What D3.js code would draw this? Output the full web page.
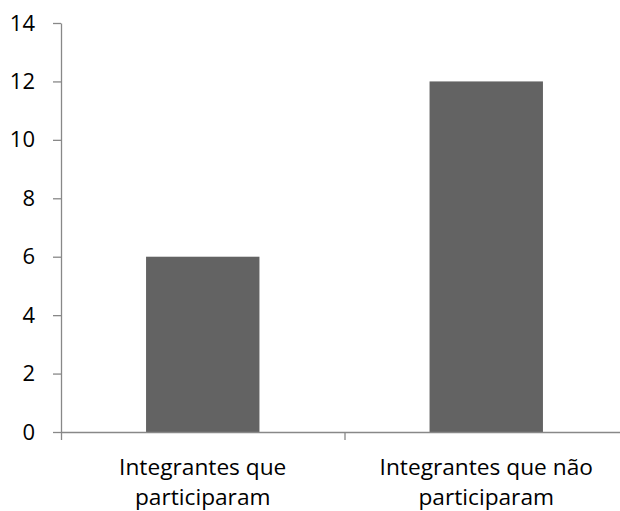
<!DOCTYPE html>
<html>
<head>
<meta charset="utf-8">
<script src="https://cdn.jsdelivr.net/npm/d3@7"></script>
<style>
  body { margin: 0; background: #fff; }
  svg text { font-family: "Open Sans", "Liberation Sans", sans-serif; fill: #000; }
</style>
</head>
<body>
<div id="chart"></div>
<script>
// data
var categories = [["Integrantes que", "participaram"], ["Integrantes que não", "participaram"]];
var values = [6, 12];
var yTicks = [0, 2, 4, 6, 8, 10, 12, 14];

var width = 620, height = 511;
var margin = {left: 61, top: 23, right: -8, bottom: 79};
var plotW = width - margin.left - margin.right;
var plotH = height - margin.top - margin.bottom;

var svg = d3.select("#chart")
  .append("svg")
  .attr("width", width)
  .attr("height", height)
  .append("g")
  .attr("transform", "translate(" + margin.left + "," + margin.top + ")");

var x = d3.scaleBand()
  .domain(d3.range(categories.length))
  .range([0, plotW])
  .paddingInner(0.6)
  .paddingOuter(0.3);

var xAxisScale = d3.scaleLinear().domain([0, categories.length]).range([0, plotW]);

var y = d3.scaleLinear()
  .domain([0, 14])
  .range([plotH, 0]);

// bars
svg.selectAll("rect.bar")
  .data(values)
  .enter()
  .append("rect")
    .attr("class", "bar")
    .attr("x", function(d, i) { return x(i); })
    .attr("y", function(d) { return y(d); })
    .attr("width", x.bandwidth())
    .attr("height", function(d) { return plotH - y(d); })
    .attr("fill", "#636363");

// y axis
var yAxis = svg.append("g")
  .call(d3.axisLeft(y).tickValues(yTicks).tickSize(8).tickPadding(18).tickSizeOuter(0));
yAxis.select(".domain").attr("stroke", "#888").attr("stroke-width", 1.3);
yAxis.selectAll(".tick line").attr("stroke", "#888").attr("stroke-width", 1.3);
yAxis.selectAll(".tick text").style("font-size", "22px").attr("fill", "#000");

// x axis (ticks between categories)
var xAxis = svg.append("g")
  .attr("transform", "translate(0," + plotH + ")")
  .call(d3.axisBottom(xAxisScale).tickValues(d3.range(categories.length + 1)).tickSize(8).tickSizeOuter(0).tickFormat(""));
xAxis.select(".domain").attr("stroke", "#888").attr("stroke-width", 1.3);
xAxis.selectAll(".tick line").attr("stroke", "#888").attr("stroke-width", 1.3);

// category labels
var lab = svg.selectAll("text.cat")
  .data(categories)
  .enter()
  .append("text")
    .attr("class", "cat")
    .attr("text-anchor", "middle")
    .attr("x", function(d, i) { return x(i) + x.bandwidth() / 2; })
    .attr("y", plotH + 43)
    .style("font-size", "22.7px");
lab.selectAll("tspan")
  .data(function(d) { return d; })
  .enter()
  .append("tspan")
    .attr("x", function() { return d3.select(this.parentNode).attr("x"); })
    .attr("dy", function(d, i) { return i === 0 ? 0 : 30; })
    .text(function(d) { return d; });
</script>
</body>
</html>
